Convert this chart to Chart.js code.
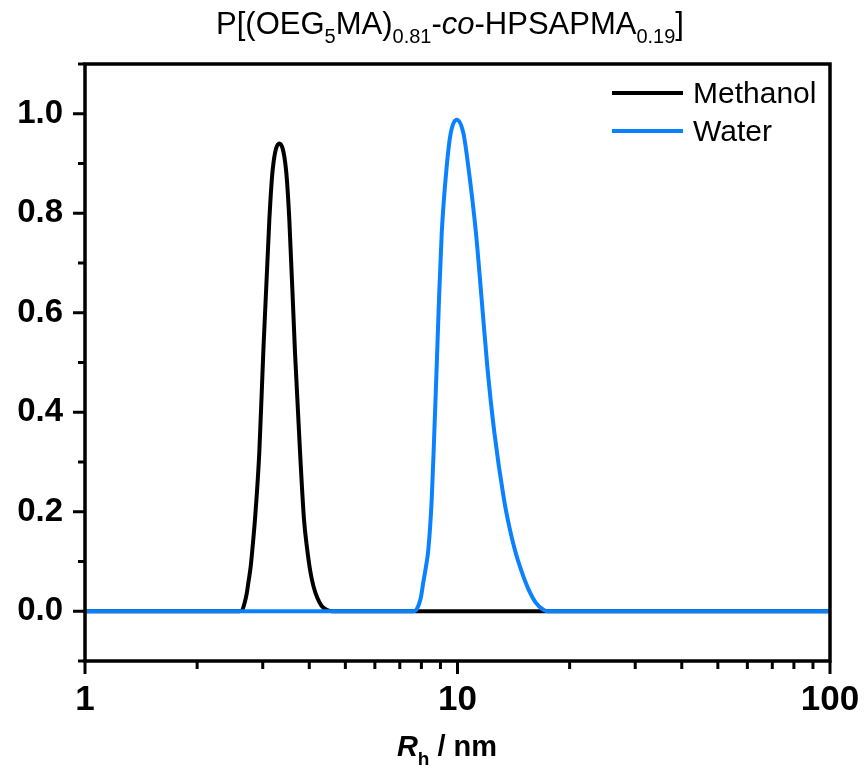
<!DOCTYPE html>
<html>
<head>
<meta charset="utf-8">
<script src="https://cdn.jsdelivr.net/npm/chart.js@4.4.1/dist/chart.umd.min.js"></script>
<style>
  html, body { margin: 0; padding: 0; background: #fff; }
  #chart { display: block; }
</style>
</head>
<body>
<canvas id="chart" width="865" height="768"></canvas>
<script>
// size distributions (Rh in nm, normalised intensity)
const methanolRh = [1, 2.6, 2.64, 2.672, 2.718, 2.748, 2.785, 2.82, 2.86, 2.937, 3.01, 3.125, 3.191, 3.324, 3.464, 3.536, 3.663, 3.779, 3.871, 3.945, 4.018, 4.106, 4.204, 4.314, 4.456, 4.6, 100];
const methanolIntensity = [0, 0, 0.002, 0.012, 0.036, 0.06, 0.09, 0.132, 0.185, 0.319, 0.519, 0.787, 0.888, 0.94, 0.888, 0.787, 0.519, 0.319, 0.185, 0.127, 0.084, 0.05, 0.027, 0.011, 0.003, 0, 0];

const waterRh = [1, 7.6, 7.771, 7.96, 8.093, 8.23, 8.35, 8.527, 8.665, 8.794, 8.92, 9.071, 9.354, 9.59, 9.951, 10.37, 10.69, 11.21, 11.61, 12.02, 12.56, 13.33, 13.79, 14.27, 14.86, 15.49, 16.2, 17.0, 17.5, 100];
const waterIntensity = [0, 0, 0.004, 0.025, 0.058, 0.09, 0.124, 0.225, 0.359, 0.493, 0.627, 0.76, 0.894, 0.961, 0.988, 0.961, 0.894, 0.76, 0.627, 0.493, 0.359, 0.225, 0.168, 0.122, 0.08, 0.045, 0.018, 0.003, 0, 0];

const seriesLabels = ['Methanol', 'Water'];
const seriesColors = ['#000000', '#0a82ff'];

const xMajorTicks = [1, 10, 100];
const xMinorTicks = [2, 3, 4, 5, 6, 7, 8, 9, 20, 30, 40, 50, 60, 70, 80, 90];
const yMajorTicks = [0, 0.2, 0.4, 0.6, 0.8, 1.0];
const yMinorTicks = [-0.1, 0.1, 0.3, 0.5, 0.7, 0.9, 1.1];

const FONT = '"Liberation Sans", Arial, sans-serif';

const toPoints = (xs, ys) => xs.map((x, i) => ({ x: x, y: ys[i] }));

// draws a row of text pieces (for sub-scripts / italics) centred on centerX
const drawRuns = (ctx, runs, centerX, baseY) => {
  let total = 0;
  runs.forEach((r) => {
    ctx.font = r.font;
    total += ctx.measureText(r.text).width;
  });
  let x = centerX - total / 2;
  ctx.textAlign = 'left';
  ctx.textBaseline = 'alphabetic';
  runs.forEach((r) => {
    ctx.font = r.font;
    ctx.fillText(r.text, x, baseY + (r.dy || 0));
    x += ctx.measureText(r.text).width;
  });
};

const decorations = {
  id: 'decorations',
  afterDatasetsDraw(chart) {
    const ctx = chart.ctx;
    const area = chart.chartArea;
    const xs = chart.scales.x;
    const ys = chart.scales.y;

    ctx.save();
    ctx.strokeStyle = '#000';
    ctx.fillStyle = '#000';

    // frame
    ctx.lineWidth = 3.5;
    ctx.strokeRect(area.left, area.top, area.right - area.left, area.bottom - area.top);

    // ticks
    ctx.lineWidth = 3;
    ctx.beginPath();
    yMajorTicks.forEach((v) => {
      const y = ys.getPixelForValue(v);
      ctx.moveTo(area.left, y);
      ctx.lineTo(area.left - 12, y);
    });
    yMinorTicks.forEach((v) => {
      const y = ys.getPixelForValue(v);
      ctx.moveTo(area.left, y);
      ctx.lineTo(area.left - 7, y);
    });
    xMajorTicks.forEach((v) => {
      const x = xs.getPixelForValue(v);
      ctx.moveTo(x, area.bottom);
      ctx.lineTo(x, area.bottom + 13);
    });
    xMinorTicks.forEach((v) => {
      const x = xs.getPixelForValue(v);
      ctx.moveTo(x, area.bottom);
      ctx.lineTo(x, area.bottom + 8);
    });
    ctx.stroke();

    // legend
    chart.data.datasets.forEach((ds, i) => {
      const y = 93 + i * 38;
      ctx.strokeStyle = ds.borderColor;
      ctx.lineWidth = 4;
      ctx.beginPath();
      ctx.moveTo(612, y);
      ctx.lineTo(683, y);
      ctx.stroke();
      ctx.font = '30px ' + FONT;
      ctx.textAlign = 'left';
      ctx.textBaseline = 'alphabetic';
      ctx.fillText(ds.label, 693, y + 10);
    });

    // title
    const reg = '31px ' + FONT;
    const sub = '20px ' + FONT;
    drawRuns(ctx, [
      { text: 'P[(OEG', font: reg },
      { text: '5', font: sub, dy: 9 },
      { text: 'MA)', font: reg },
      { text: '0.81', font: sub, dy: 9 },
      { text: '-', font: reg },
      { text: 'co', font: 'italic 31px ' + FONT },
      { text: '-HPSAPMA', font: reg },
      { text: '0.19', font: sub, dy: 9 },
      { text: ']', font: reg }
    ], 450, 34);

    // x axis title
    drawRuns(ctx, [
      { text: 'R', font: 'italic bold 29px ' + FONT },
      { text: 'h', font: 'bold 19px ' + FONT, dy: 9 },
      { text: ' / nm', font: 'bold 29px ' + FONT }
    ], 447, 756);

    ctx.restore();
  }
};

new Chart(document.getElementById('chart'), {
  type: 'line',
  data: {
    datasets: [
      {
        label: seriesLabels[0],
        data: toPoints(methanolRh, methanolIntensity),
        borderColor: seriesColors[0],
        order: 1
      },
      {
        label: seriesLabels[1],
        data: toPoints(waterRh, waterIntensity),
        borderColor: seriesColors[1],
        order: 0
      }
    ]
  },
  options: {
    responsive: false,
    animation: false,
    parsing: false,
    elements: {
      line: { borderWidth: 4, fill: false, cubicInterpolationMode: 'monotone' },
      point: { radius: 0 }
    },
    layout: { padding: { top: 64, right: 35, left: 0, bottom: 0 } },
    plugins: {
      legend: { display: false },
      tooltip: { enabled: false }
    },
    scales: {
      x: {
        type: 'logarithmic',
        min: 1,
        max: 100,
        afterBuildTicks: (scale) => {
          scale.ticks = xMajorTicks.map((v) => ({ value: v, major: true }));
        },
        afterFit: (scale) => {
          scale.height = 107;
          scale.paddingLeft = 0;
          scale.paddingRight = 0;
        },
        grid: { display: false, drawTicks: false, tickLength: 0 },
        border: { display: false },
        ticks: {
          autoSkip: false,
          maxRotation: 0,
          padding: 18,
          color: '#000',
          font: { family: FONT, size: 35, weight: 'bold' },
          callback: (value) => String(value)
        }
      },
      y: {
        type: 'linear',
        min: -0.1,
        max: 1.1,
        afterBuildTicks: (scale) => {
          scale.ticks = yMajorTicks.map((v) => ({ value: v }));
        },
        afterFit: (scale) => {
          scale.width = 85;
          scale.paddingTop = 0;
          scale.paddingBottom = 0;
        },
        grid: { display: false, drawTicks: false, tickLength: 0 },
        border: { display: false },
        ticks: {
          padding: 22,
          color: '#000',
          font: { family: FONT, size: 33, weight: 'bold' },
          callback: (value) => Number(value).toFixed(1)
        }
      }
    }
  },
  plugins: [decorations]
});
</script>
</body>
</html>
